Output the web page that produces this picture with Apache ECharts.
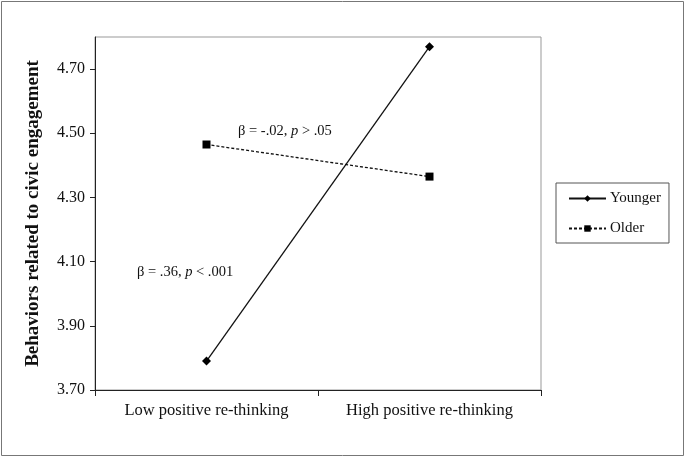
<!DOCTYPE html>
<html>
<head>
<meta charset="utf-8">
<script src="https://cdn.jsdelivr.net/npm/echarts@6/dist/echarts.min.js"></script>
<style>html,body{margin:0;padding:0;background:#fff}#c{width:685px;height:457px}</style>
</head>
<body>
<div id="c"></div>
<script>
const categories = ['Low positive re-thinking', 'High positive re-thinking'];
const younger = [3.79, 4.77];
const older = [4.465, 4.365];
const yTicks = [3.70, 3.90, 4.10, 4.30, 4.50, 4.70];
const yTitle = 'Behaviors related to civic engagement';
const seriesNames = ['Younger', 'Older'];

const chart = echarts.init(document.getElementById('c'), null, {renderer: 'canvas'});
const font = 'Liberation Serif';
const rich = {n: {fontFamily: font, fontSize: 14.5, fill: '#111'}, i: {fontFamily: font, fontSize: 14.5, fontStyle: 'italic', fill: '#111'}};
chart.setOption({
  animation: false,
  backgroundColor: '#fff',
  textStyle: {fontFamily: font},
  graphic: [
    {type: 'rect', shape: {x: 1.5, y: 1.5, width: 682, height: 454}, style: {fill: 'none', stroke: '#777', lineWidth: 1}, silent: true},
    {type: 'text', left: 238, top: 124, style: {text: '{n|β = -.02, }{i|p}{n| > .05}', rich: rich}},
    {type: 'text', left: 137, top: 265, style: {text: '{n|β = .36, }{i|p}{n| < .001}', rich: rich}}
  ],
  grid: {left: 95, top: 37, right: 144, bottom: 67, show: true, borderColor: '#999', borderWidth: 1},
  legend: {
    orient: 'vertical', left: 556, top: 183,
    padding: [8, 8, 7, 12], itemGap: 15,
    borderColor: '#555', borderWidth: 1,
    itemWidth: 37, itemHeight: 8,
    textStyle: {fontFamily: font, fontSize: 15, color: '#111', padding: [0, 0, 0, -1]},
    data: seriesNames
  },
  xAxis: {
    type: 'category', data: categories, boundaryGap: true,
    axisLine: {lineStyle: {color: '#222', width: 1}},
    axisTick: {show: true, alignWithLabel: false, length: 6, inside: false, lineStyle: {color: '#222'}},
    axisLabel: {fontFamily: font, fontSize: 16.5, color: '#111', margin: 12}
  },
  yAxis: {
    type: 'value', min: 3.7, max: 4.8,
    name: yTitle, nameLocation: 'middle', nameGap: 52, nameRotate: 90,
    nameTextStyle: {fontFamily: font, fontSize: 19, fontWeight: 'bold', color: '#111'},
    axisLine: {show: true, lineStyle: {color: '#222', width: 1}},
    axisTick: {show: true, length: 5, lineStyle: {color: '#222'}, customValues: yTicks},
    axisLabel: {fontFamily: font, fontSize: 16, color: '#111', margin: 10, customValues: yTicks,
      formatter: v => v.toFixed(2)},
    splitLine: {show: false}
  },
  series: [
    {name: seriesNames[0], type: 'line', data: younger, symbol: 'diamond', symbolSize: 9,
      itemStyle: {color: '#000'}, lineStyle: {color: '#111', width: 1.3, type: 'solid'}},
    {name: seriesNames[1], type: 'line', data: older, symbol: 'rect', symbolSize: 8,
      itemStyle: {color: '#000'}, lineStyle: {color: '#111', width: 1.3, type: [3, 2]}}
  ]
});
</script>
</body>
</html>
